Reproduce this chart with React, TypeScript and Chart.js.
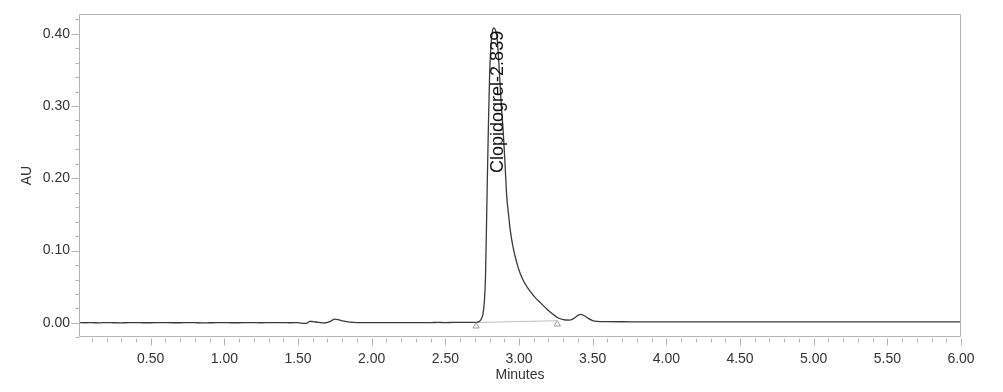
import React, { useEffect, useRef } from "react";
import { Chart, registerables } from "chart.js";

Chart.register(...registerables);

// Chromatogram trace (retention time in minutes, absorbance in AU)
const timeMin: number[] = [
  0.014, 0.06, 0.1, 0.15, 0.2, 0.25, 0.3, 0.35, 0.4, 0.45, 0.5, 0.55, 0.6, 0.65, 0.7, 0.75, 0.8, 0.85, 0.9, 0.95,
  1.0, 1.05, 1.1, 1.15, 1.2, 1.25, 1.3, 1.35, 1.4, 1.45, 1.5, 1.54, 1.56, 1.58, 1.6, 1.64, 1.68, 1.72, 1.75, 1.77,
  1.8, 1.85, 1.9, 1.95, 2.0, 2.05, 2.1, 2.15, 2.2, 2.25, 2.3, 2.35, 2.4, 2.45, 2.5, 2.55, 2.6, 2.65, 2.7, 2.72,
  2.74, 2.755, 2.765, 2.772, 2.778, 2.785, 2.792, 2.8, 2.81, 2.82, 2.83, 2.84, 2.85, 2.86, 2.87, 2.88, 2.892, 2.905,
  2.917, 2.93, 2.94, 2.96, 2.985, 3.005, 3.028, 3.06, 3.09, 3.11, 3.15, 3.19, 3.23, 3.26, 3.3, 3.34, 3.37,
  3.4, 3.42, 3.44, 3.47, 3.5, 3.53, 3.6, 3.7, 3.8, 3.9, 4.0, 4.1, 4.2, 4.3, 4.4, 4.5, 4.6, 4.7, 4.8, 4.9,
  5.0, 5.1, 5.2, 5.3, 5.4, 5.5, 5.6, 5.7, 5.8, 5.9, 6.0,
];
const absAU: number[] = [
  0.0003, 0.0002, 0.0003, 0.0001, 0.0004, 0.0002, 0.0001, 0.0003, 0.0003, 0.0002, 0.0002, 0.0004, 0.0003, 0.0002, 0.0002, 0.0004, 0.0003, 0.0001, 0.0002, 0.0003,
  0.0003, 0.0002, 0.0002, 0.0004, 0.0003, 0.0002, 0.0003, 0.0004, 0.0003, 0.0002, 0.0003, -0.0007, -0.0003, 0.0022, 0.0018, 0.0007, -0.0001, 0.0022, 0.0052, 0.0046,
  0.0028, 0.0012, 0.0005, 0.0004, 0.0003, 0.0004, 0.0003, 0.0004, 0.0005, 0.0004, 0.0004, 0.0005, 0.0005, 0.0006, 0.0005, 0.0006, 0.0007, 0.0007, 0.0008, 0.0012,
  0.004, 0.012, 0.03, 0.06, 0.12, 0.2, 0.27, 0.34, 0.385, 0.404, 0.408, 0.405, 0.396, 0.37, 0.335, 0.3, 0.267, 0.22,
  0.174, 0.148, 0.129, 0.104, 0.083, 0.07, 0.059, 0.048, 0.04, 0.035, 0.027, 0.019, 0.012, 0.0075, 0.0045, 0.0038, 0.006,
  0.0105, 0.0118, 0.0102, 0.0062, 0.0032, 0.0022, 0.0018, 0.0016, 0.0015, 0.0014, 0.0015, 0.0013, 0.0014, 0.0015, 0.0013, 0.0014, 0.0014, 0.0013, 0.0015, 0.0014,
  0.0013, 0.0014, 0.0015, 0.0013, 0.0014, 0.0014, 0.0013, 0.0014, 0.0013, 0.0014, 0.0014,
];

// Integration baseline of the main peak and its start/end markers
const baselineTime: number[] = [2.709, 3.26];
const baselineAU: number[] = [0.0006, 0.003];
const markerAU: number[] = [-0.0046, -0.0018];

const peakName = "Clopidogrel";
const peakRT = 2.839;
const peakTopAU = 0.404;

const xMin = 0.0133;
const xMax = 6.0;
const yMin = -0.0195;
const yMax = 0.4273;
const xMajorTicks: number[] = [0.5, 1.0, 1.5, 2.0, 2.5, 3.0, 3.5, 4.0, 4.5, 5.0, 5.5, 6.0];
const xMinorTicks: number[] = [
  0.1, 0.2, 0.3, 0.4, 0.5, 0.6, 0.7, 0.8, 0.9, 1.0, 1.1, 1.2, 1.3, 1.4, 1.5, 1.6, 1.7, 1.8, 1.9, 2.0,
  2.1, 2.2, 2.3, 2.4, 2.5, 2.6, 2.7, 2.8, 2.9, 3.0, 3.1, 3.2, 3.3, 3.4, 3.5, 3.6, 3.7, 3.8, 3.9, 4.0,
  4.1, 4.2, 4.3, 4.4, 4.5, 4.6, 4.7, 4.8, 4.9, 5.0, 5.1, 5.2, 5.3, 5.4, 5.5, 5.6, 5.7, 5.8, 5.9, 6.0,
];
const yMajorTicks: number[] = [0.0, 0.1, 0.2, 0.3, 0.4];
const yMinorTicks: number[] = [
  -0.02, 0.0, 0.02, 0.04, 0.06, 0.08, 0.1, 0.12, 0.14, 0.16, 0.18, 0.2, 0.22, 0.24, 0.26, 0.28, 0.3, 0.32, 0.34, 0.36, 0.38, 0.4, 0.42,
];

const FONT = "'Liberation Sans', Arial, Helvetica, sans-serif";
const AXIS_COLOR = "#b4b4b4";
const TEXT_COLOR = "#333333";

const isMajor = (v: number, list: number[]) => list.some((m) => Math.abs(m - v) < 1e-6);

const decorPlugin = {
  id: "decor",
  afterDraw(chart: any) {
    const { ctx, chartArea } = chart;
    const x = chart.scales.x;
    const y = chart.scales.y;
    const L = Math.round(chartArea.left) + 0.5;
    const R = Math.round(chartArea.right) - 0.5;
    const T = Math.round(chartArea.top) + 0.5;
    const B = Math.round(chartArea.bottom) - 0.5;
    ctx.save();
    ctx.strokeStyle = AXIS_COLOR;
    ctx.lineWidth = 1;
    ctx.beginPath();
    ctx.rect(L, T, R - L, B - T);
    ctx.stroke();
    ctx.beginPath();
    for (const v of xMinorTicks) {
      const px = Math.round(x.getPixelForValue(v)) + 0.5;
      if (px < chartArea.left - 1 || px > chartArea.right + 1) continue;
      const len = isMajor(v, xMajorTicks) ? 7 : 4;
      ctx.moveTo(px, B + 2);
      ctx.lineTo(px, B + 2 + len);
    }
    for (const v of yMinorTicks) {
      const py = Math.round(y.getPixelForValue(v)) + 0.5;
      if (py < chartArea.top - 1 || py > chartArea.bottom + 1) continue;
      const len = isMajor(v, yMajorTicks) ? 8 : 4;
      ctx.moveTo(L, py);
      ctx.lineTo(L - len, py);
    }
    ctx.stroke();

    // peak label
    const lx = x.getPixelForValue(peakRT);
    const ly = y.getPixelForValue(peakTopAU);
    ctx.translate(lx + 3, ly);
    ctx.rotate(-Math.PI / 2);
    ctx.fillStyle = "#111";
    ctx.font = `18px ${FONT}`;
    ctx.textAlign = "right";
    ctx.textBaseline = "middle";
    ctx.fillText(`${peakName}-${peakRT.toFixed(3)}`, 0, 0);
    ctx.restore();
  },
};

export default function App() {
  const ref = useRef<HTMLCanvasElement | null>(null);
  useEffect(() => {
    if (!ref.current) return;
    const trace = timeMin.map((t, i) => ({ x: t, y: absAU[i] }));
    const base = baselineTime.map((t, i) => ({ x: t, y: baselineAU[i] }));
    const markers = baselineTime.map((t, i) => ({ x: t, y: markerAU[i] }));
    const chart = new Chart(ref.current, {
      type: "line",
      data: {
        datasets: [
          {
            data: base,
            borderColor: "#bdbdbd",
            borderWidth: 1,
            pointRadius: 0,
            order: 2,
          },
          {
            data: trace,
            borderColor: "#3a3a3a",
            borderWidth: 1.3,
            pointRadius: 0,
            cubicInterpolationMode: "monotone",
            order: 1,
          },
          {
            data: markers,
            showLine: false,
            pointStyle: "triangle",
            pointRadius: 3.6,
            pointBorderColor: "#9a9a9a",
            pointBackgroundColor: "#ffffff",
            pointBorderWidth: 1,
            order: 0,
          },
        ],
      },
      options: {
        responsive: false,
        animation: false,
        events: [],
        layout: { padding: { top: 14, right: 42, left: 0, bottom: 0 } },
        plugins: { legend: { display: false }, tooltip: { enabled: false } },
        scales: {
          x: {
            type: "linear",
            min: xMin,
            max: xMax,
            afterFit: (s: any) => {
              s.height = 55;
              s.paddingLeft = 0;
              s.paddingRight = 0;
            },
            afterBuildTicks: (s: any) => {
              s.ticks = xMajorTicks.map((v) => ({ value: v }));
            },
            grid: { display: true, drawOnChartArea: false, drawTicks: false, color: "rgba(0,0,0,0)" },
            border: { display: false },
            ticks: {
              padding: 13.5,
              autoSkip: false,
              maxRotation: 0,
              color: TEXT_COLOR,
              font: { family: FONT, size: 14 },
              callback: (v: any) => Number(v).toFixed(2),
            },
            title: {
              display: true,
              text: "Minutes",
              color: TEXT_COLOR,
              font: { family: FONT, size: 14 },
              padding: { top: 0, bottom: 8.5 },
            },
          },
          y: {
            type: "linear",
            min: yMin,
            max: yMax,
            afterFit: (s: any) => {
              s.width = 79;
              s.paddingTop = 0;
              s.paddingBottom = 0;
            },
            afterBuildTicks: (s: any) => {
              s.ticks = yMajorTicks.map((v) => ({ value: v }));
            },
            grid: { display: true, drawOnChartArea: false, drawTicks: false, color: "rgba(0,0,0,0)" },
            border: { display: false },
            ticks: {
              padding: 9,
              autoSkip: false,
              color: TEXT_COLOR,
              font: { family: FONT, size: 14 },
              callback: (v: any) => Number(v).toFixed(2),
            },
            title: {
              display: true,
              text: "AU",
              color: TEXT_COLOR,
              font: { family: FONT, size: 14 },
              padding: { top: 19, bottom: 0 },
            },
          },
        },
      },
      plugins: [decorPlugin],
    });
    return () => chart.destroy();
  }, []);
  return (
    <div style={{ position: "absolute", left: 0, top: 0, width: 1003, height: 392, background: "#fff" }}>
      <canvas ref={ref} width={1003} height={392} />
    </div>
  );
}
